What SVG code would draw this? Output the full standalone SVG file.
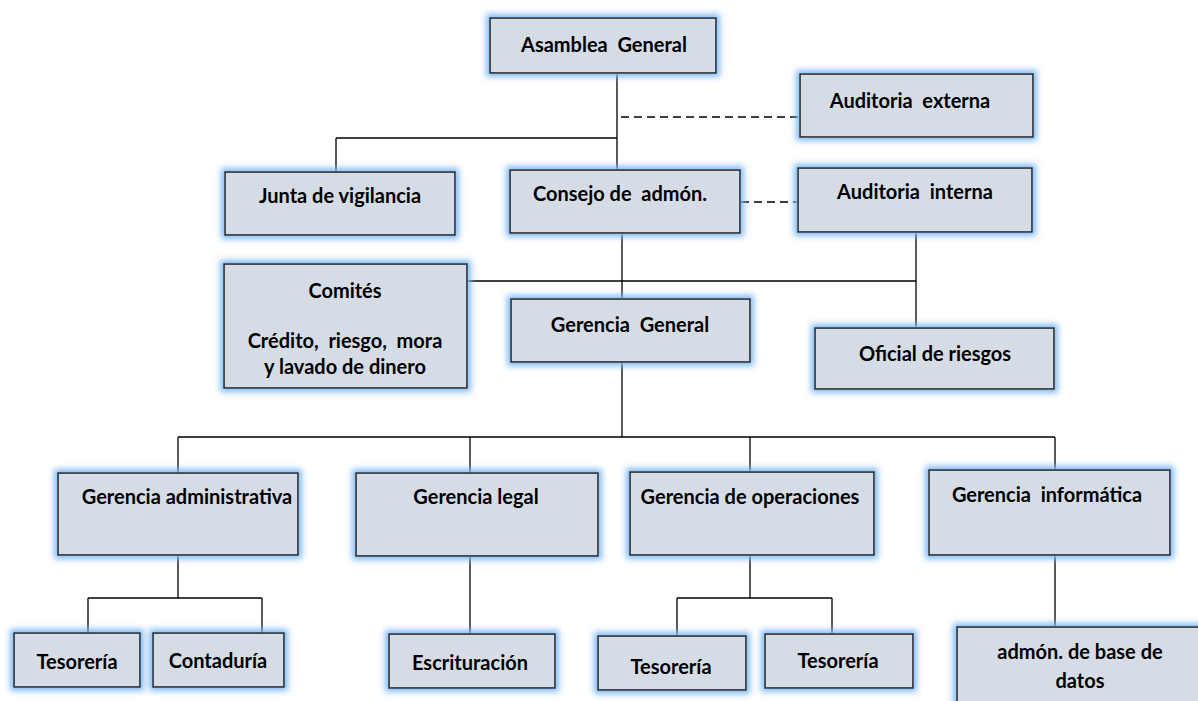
<svg xmlns="http://www.w3.org/2000/svg" width="1198" height="701" viewBox="0 0 1198 701">
<defs>
<filter id="glow" x="-20%" y="-40%" width="140%" height="180%">
<feMorphology in="SourceAlpha" operator="dilate" radius="3" result="d"/>
<feGaussianBlur in="d" stdDeviation="3.2" result="b"/>
<feFlood flood-color="#7db8f2"/>
<feComposite in2="b" operator="in" result="g"/>
<feMerge><feMergeNode in="g"/><feMergeNode in="SourceGraphic"/></feMerge>
</filter>
</defs>
<style>
.box{fill:#d6dce5;stroke:#262626;stroke-width:1.6;filter:url(#glow)}
.t{font-family:Lato,"Open Sans","Liberation Sans",sans-serif;font-weight:bold;font-size:20px;fill:#000;text-anchor:middle;white-space:pre}
.ln{stroke:#000;stroke-width:1.3;fill:none}
.dash{stroke:#000;stroke-width:1.5;fill:none;stroke-dasharray:8 5}
</style>
<rect width="1198" height="701" fill="#fff"/>
<g id="connectors">
<path class="ln" d="M617 73V170"/>
<path class="ln" d="M336 138H617M336 138V172"/>
<path class="dash" d="M621 117H800"/>
<path class="dash" d="M741 202H798"/>
<path class="ln" d="M622 233V299"/>
<path class="ln" d="M467 281H916"/>
<path class="ln" d="M916 232V327"/>
<path class="ln" d="M622 362V437"/>
<path class="ln" d="M178 437H1055M178 437V473M470 437V473M750 437V472M1055 437V470"/>
<path class="ln" d="M178 555V598M88 598H262M88 598V633M262 598V633"/>
<path class="ln" d="M470 556V634"/>
<path class="ln" d="M750 555V598M677 598H832M677 598V636M832 598V634"/>
<path class="ln" d="M1055 555V627"/>
</g>
<g id="asamblea"><rect class="box" x="490" y="18" width="226" height="55"/><text class="t" x="604" y="52">Asamblea  General</text></g>
<g id="aud-externa"><rect class="box" x="800" y="74" width="233" height="63"/><text class="t" x="910" y="108">Auditoria  externa</text></g>
<g id="junta"><rect class="box" x="225" y="172" width="230" height="63"/><text class="t" x="340" y="203">Junta de vigilancia</text></g>
<g id="consejo"><rect class="box" x="510" y="170" width="230" height="63"/><text class="t" x="620" y="201">Consejo de  admón.</text></g>
<g id="aud-interna"><rect class="box" x="798" y="168" width="234" height="64"/><text class="t" x="915" y="199">Auditoria  interna</text></g>
<g id="comites"><rect class="box" x="224" y="264" width="243" height="124"/><text class="t" x="345" y="298">Comités</text><text class="t" x="345" y="348">Crédito,  riesgo,  mora</text><text class="t" x="345" y="374">y lavado de dinero</text></g>
<g id="gerencia-general"><rect class="box" x="511" y="299" width="239" height="63"/><text class="t" x="630" y="332">Gerencia  General</text></g>
<g id="oficial"><rect class="box" x="815" y="328" width="239" height="61"/><text class="t" x="935" y="361">Oficial de riesgos</text></g>
<g id="ger-admin"><rect class="box" x="58" y="473" width="240" height="82"/><text class="t" x="187" y="504">Gerencia administrativa</text></g>
<g id="ger-legal"><rect class="box" x="356" y="473" width="242" height="83"/><text class="t" x="476" y="504">Gerencia legal</text></g>
<g id="ger-oper"><rect class="box" x="630" y="472" width="244" height="83"/><text class="t" x="750" y="504">Gerencia de operaciones</text></g>
<g id="ger-info"><rect class="box" x="929" y="470" width="241" height="85"/><text class="t" x="1047" y="502">Gerencia  informática</text></g>
<g id="tesoreria1"><rect class="box" x="14" y="633" width="126" height="54"/><text class="t" x="77" y="669">Tesorería</text></g>
<g id="contaduria"><rect class="box" x="153" y="633" width="131" height="54"/><text class="t" x="218" y="668">Contaduría</text></g>
<g id="escrituracion"><rect class="box" x="389" y="634" width="166" height="54"/><text class="t" x="470" y="670">Escrituración</text></g>
<g id="tesoreria2"><rect class="box" x="598" y="636" width="148" height="54"/><text class="t" x="671" y="674">Tesorería</text></g>
<g id="tesoreria3"><rect class="box" x="765" y="634" width="148" height="54"/><text class="t" x="838" y="668">Tesorería</text></g>
<g id="admon-bd"><rect class="box" x="957" y="627" width="250" height="90"/><text class="t" x="1080" y="659">admón. de base de</text><text class="t" x="1080" y="688">datos</text></g>
</svg>
